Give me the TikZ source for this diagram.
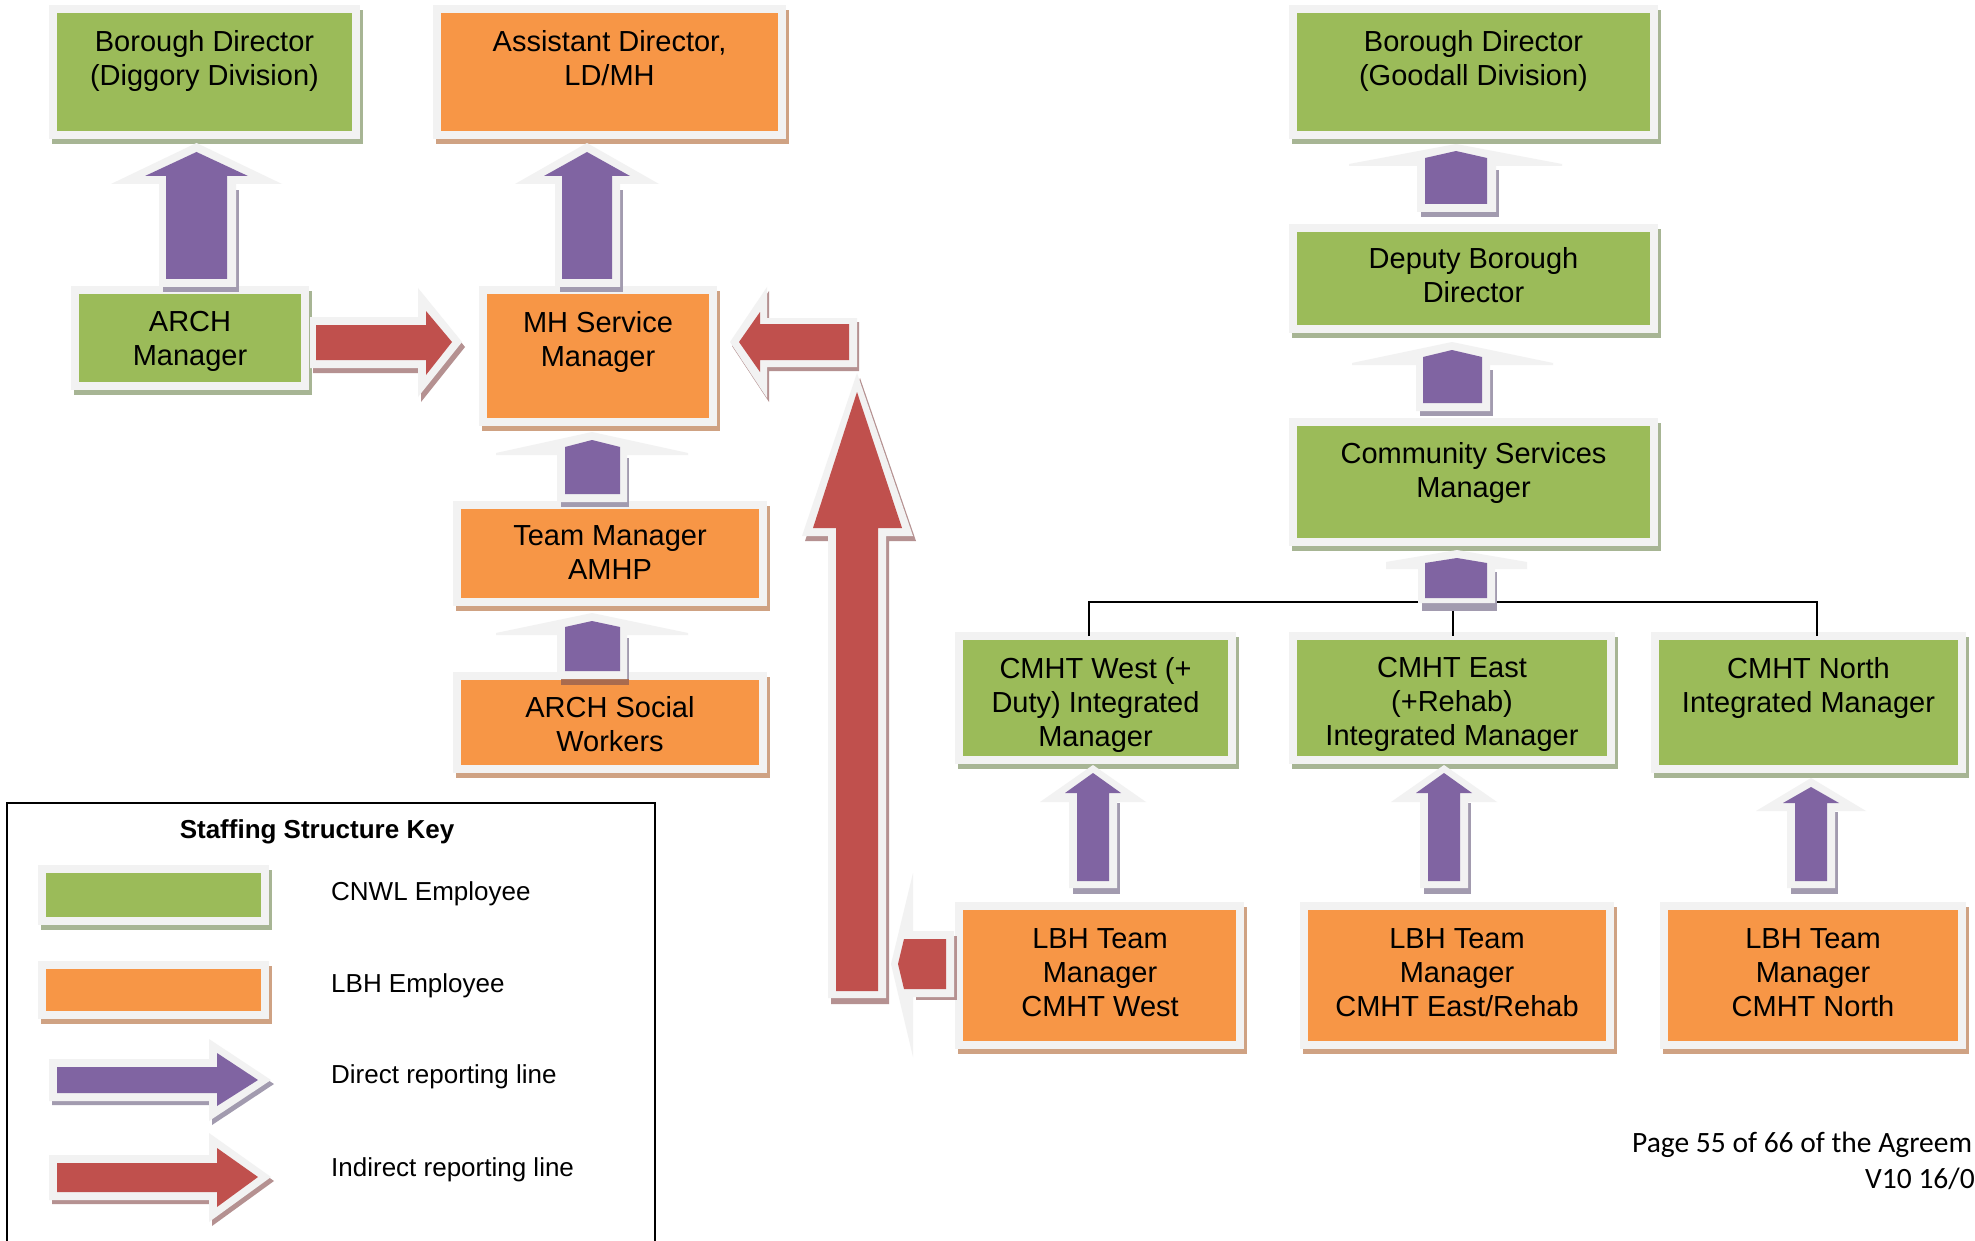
\documentclass[tikz,border=0pt]{standalone}
\usepackage{fontspec}
\setmainfont{Liberation Sans}
\newfontfamily\footfont{Carlito}
\definecolor{gr}{HTML}{9BBB59}
\definecolor{grs}{HTML}{A7B594}
\definecolor{og}{HTML}{F79646}
\definecolor{ogs}{HTML}{CFA283}
\definecolor{pu}{HTML}{8064A2}
\definecolor{pus}{HTML}{A29BAF}
\definecolor{rd}{HTML}{C0504D}
\definecolor{rds}{HTML}{B59191}
\definecolor{brs}{HTML}{A96B4E}
\definecolor{frm}{HTML}{F2F2F2}
% #1 name, #2 x1, #3 y1, #4 x2, #5 y2 (inner fill rectangle), #6 fill, #7 shadow
\newcommand{\mybox}[7]{%
  \fill[#7] (#2-5,#3-3) rectangle (#4+11,#5+13);
  \node[box, fill=#6, minimum width={#4-#2+8}, minimum height={#5-#3+8}] (#1) at ({(#2+#4)/2},{(#3+#5)/2}) {};
}
\begin{document}
\begin{tikzpicture}[x=1pt,y=-1pt,
  box/.style={rectangle, inner sep=0pt, outer sep=0pt, line width=8pt, draw=frm},
  lbl/.style={font=\fontsize{29}{34}\selectfont, align=center, inner sep=0pt, anchor=north},
  keylbl/.style={font=\fontsize{26}{30}\selectfont, inner sep=0pt, anchor=north west},
  conn/.style={line width=2pt, draw=black},
  aout/.style={fill=frm},
  pf/.style={fill=pu}, ps/.style={fill=pus},
  rf/.style={fill=rd}, rs/.style={fill=rds}]
\useasboundingbox[fill=white] (0,0) rectangle (1975,1241);

% junction coordinate for the CMHT connector
\coordinate (jn) at (1453,602);

% ---------- boxes ----------
\mybox{bdd}{57}{13}{352}{131}{gr}{grs}
\mybox{ad}{441}{13}{778}{131}{og}{ogs}
\mybox{bdg}{1297}{13}{1650}{131}{gr}{grs}
\mybox{archm}{79}{294}{301}{382}{gr}{grs}
\mybox{mhsm}{487}{294}{709}{418}{og}{ogs}
\mybox{dbd}{1297}{232}{1650}{325}{gr}{grs}
\mybox{csm}{1297}{426}{1650}{538}{gr}{grs}
\mybox{tm}{461}{509}{759}{598}{og}{ogs}
\mybox{arsw}{461}{680}{759}{765}{og}{ogs}

\mybox{cw}{963}{640}{1228}{756}{gr}{grs}
\mybox{ce}{1297}{640}{1607}{756}{gr}{grs}
\mybox{cn}{1659}{640}{1958}{765}{gr}{grs}
\mybox{lw}{963}{910}{1236}{1041}{og}{ogs}
\mybox{le}{1308}{910}{1606}{1041}{og}{ogs}
\mybox{ln}{1668}{910}{1958}{1041}{og}{ogs}

% connector lines from the junction to the three CMHT boxes
\coordinate (jw) at (1089,602);
\coordinate (je) at (1817,602);
\draw[conn] (jw |- cw.north) -- (jw) -- (je) -- (je |- cn.north);
\draw[conn] (jn) -- (jn |- ce.north);

% ---------- legend ----------
\draw[line width=2pt] (7,1260) -- (7,803) -- (655,803) -- (655,1260);
\mybox{kg}{46}{873}{261}{917}{gr}{grs}
\mybox{ko}{46}{969}{261}{1011}{og}{ogs}

% ---------- purple up arrows ----------
% ARCH Manager -> Borough Director (Diggory)
\fill[ps] (163,190) rectangle (239,292);
\fill[aout] (159,287) -- (159,184) -- (111,184) -- (196.5,143) -- (282,184) -- (236,184) -- (236,287) -- cycle;
\fill[pf] (166,279) -- (166,176) -- (145,176) -- (196.5,152) -- (248,176) -- (227,176) -- (227,279) -- cycle;
% MH Service Manager -> Assistant Director
\fill[ps] (560,190) rectangle (623,292);
\fill[aout] (555,287) -- (555,184) -- (515,184) -- (587,143) -- (659,184) -- (620,184) -- (620,287) -- cycle;
\fill[pf] (562,279) -- (562,176) -- (544,176) -- (587,152) -- (630,176) -- (612,176) -- (612,279) -- cycle;
% LBH West -> CMHT West
\fill[ps] (1073,803) rectangle (1120,894);
\fill[aout] (1069,888) -- (1069,802) -- (1040,802) -- (1093,765) -- (1146,802) -- (1117,802) -- (1117,888) -- cycle;
\fill[pf] (1077,881) -- (1077,793) -- (1065,793) -- (1093,773) -- (1121,793) -- (1109,793) -- (1109,881) -- cycle;
% LBH East -> CMHT East
\fill[ps] (1424,803) rectangle (1471,894);
\fill[aout] (1420,888) -- (1420,802) -- (1391,802) -- (1444,765) -- (1497,802) -- (1468,802) -- (1468,888) -- cycle;
\fill[pf] (1428,881) -- (1428,793) -- (1416,793) -- (1444,773) -- (1472,793) -- (1460,793) -- (1460,881) -- cycle;
% LBH North -> CMHT North
\fill[ps] (1791,812) rectangle (1838,894);
\fill[aout] (1787,888) -- (1787,811) -- (1756,811) -- (1811,778) -- (1866,811) -- (1835,811) -- (1835,888) -- cycle;
\fill[pf] (1795,881) -- (1795,803) -- (1783,803) -- (1811,787) -- (1839,803) -- (1827,803) -- (1827,881) -- cycle;

% ---------- short purple arrows ----------
% Deputy -> Borough Director (Goodall)
\fill[ps] (1421,170) rectangle (1499,217);
\fill[aout] (1417,212) -- (1417,166) -- (1349,166) -- (1349,164) -- (1456,144) -- (1562,164) -- (1562,166) -- (1496,166) -- (1496,212) -- cycle;
\fill[pf] (1425,204) -- (1425,158) -- (1456,151) -- (1487,158) -- (1487,204) -- cycle;
% CSM -> Deputy
\fill[ps] (1420,370) rectangle (1493,416);
\fill[aout] (1416,411) -- (1416,365) -- (1352,365) -- (1352,363) -- (1452,342) -- (1553,363) -- (1553,365) -- (1490,365) -- (1490,411) -- cycle;
\fill[pf] (1423,403) -- (1423,357) -- (1452,350) -- (1482,357) -- (1482,403) -- cycle;
% CMHT managers -> CSM
\fill[ps] (1422,572) rectangle (1497,611);
\fill[aout] (1418,603) -- (1418,569) -- (1386,569) -- (1386,562) -- (1457,550) -- (1527,562) -- (1527,569) -- (1495,569) -- (1495,603) -- cycle;
\fill[pf] (1425,598) -- (1425,563) -- (1457,558) -- (1487,563) -- (1487,598) -- cycle;
% Team Manager -> MH Service Manager
\fill[ps] (561,458) rectangle (629,507);
\fill[aout] (557,502) -- (557,455) -- (496,455) -- (496,453) -- (592,432) -- (688,453) -- (688,455) -- (627,455) -- (627,502) -- cycle;
\fill[pf] (565,494) -- (565,447) -- (592,440) -- (620,447) -- (620,494) -- cycle;
% ARCH Social Workers -> Team Manager
\fill[ps] (561,638) rectangle (629,679);
\fill[brs] (561,679) rectangle (629,685);
\fill[aout] (557,679) -- (557,635) -- (496,635) -- (496,633) -- (592,613) -- (688,633) -- (688,635) -- (627,635) -- (627,679) -- cycle;
\fill[pf] (565,671) -- (565,627) -- (592,621) -- (620,627) -- (620,671) -- cycle;

% ---------- red arrows ----------
% ARCH Manager -> MH Service Manager
\fill[rs] (313,322) -- (421,322) -- (421,293) -- (465,347) -- (421,402) -- (421,373) -- (313,373) -- cycle;
\fill[aout] (310,317) -- (418,317) -- (418,288) -- (462,342) -- (418,397) -- (418,368) -- (310,368) -- cycle;
\fill[rf] (316,325) -- (426,325) -- (426,311) -- (452,342) -- (426,375) -- (426,360) -- (316,360) -- cycle;
% long arrow -> MH Service Manager
\fill[rs] (859,322) -- (769,322) -- (769,291) -- (732,346) -- (769,402) -- (769,371) -- (859,371) -- cycle;
\fill[aout] (857,318) -- (767,318) -- (767,287) -- (730,342) -- (767,398) -- (767,367) -- (857,367) -- cycle;
\fill[rf] (849,324) -- (760,324) -- (760,312) -- (739,342) -- (760,372) -- (760,360) -- (849,360) -- cycle;
% long vertical arrow
\fill[rs] (831,1004) -- (831,541) -- (805,541) -- (860,378) -- (916,541) -- (889,541) -- (889,1004) -- cycle;
\fill[aout] (828,998) -- (828,536) -- (802,536) -- (857,373) -- (913,536) -- (886,536) -- (886,998) -- cycle;
\fill[rf] (836,991) -- (836,528) -- (813,528) -- (857,392) -- (902,528) -- (878,528) -- (878,991) -- cycle;
% LBH Team Manager CMHT West -> long arrow
\fill[rs] (916,936) rectangle (957,1000);
\fill[aout] (954,931) -- (913,931) -- (913,873) -- (891,964) -- (913,1057) -- (913,997) -- (954,997) -- cycle;
\fill[rf] (946,939) -- (904,939) -- (898,964) -- (904,989) -- (946,989) -- cycle;

% ---------- legend arrows ----------
\fill[ps] (52,1063) -- (212,1063) -- (212,1043) -- (274,1084) -- (212,1125) -- (212,1105) -- (52,1105) -- cycle;
\fill[aout] (49,1059) -- (209,1059) -- (209,1039) -- (271,1080) -- (209,1121) -- (209,1101) -- (49,1101) -- cycle;
\fill[pf] (57,1067) -- (217,1067) -- (217,1053) -- (258,1080) -- (217,1106) -- (217,1093) -- (57,1093) -- cycle;
\fill[rs] (52,1159) -- (212,1159) -- (212,1137) -- (274,1181) -- (212,1226) -- (212,1204) -- (52,1204) -- cycle;
\fill[aout] (49,1155) -- (209,1155) -- (209,1133) -- (271,1177) -- (209,1222) -- (209,1200) -- (49,1200) -- cycle;
\fill[rf] (57,1163) -- (217,1163) -- (217,1148) -- (258,1177) -- (217,1207) -- (217,1192) -- (57,1192) -- cycle;

% ---------- texts ----------
\node[lbl] (t-bdd) at (204.5,30) {Borough Director\\(Diggory Division)};
\node[lbl] (t-ad) at (609.5,30) {Assistant Director,\\LD/MH};
\node[lbl] (t-bdg) at (1473.5,30) {Borough Director\\(Goodall Division)};
\node[lbl] (t-archm) at (190,311) {ARCH\\Manager};
\node[lbl] (t-mhsm) at (598,311) {MH Service\\Manager};
\node[lbl] (t-dbd) at (1473.5,247) {Deputy Borough\\Director};
\node[lbl] (t-csm) at (1473.5,442) {Community Services\\Manager};
\node[lbl] (t-tm) at (610,525) {Team Manager\\AMHP};
\node[lbl] (t-arsw) at (610,696.5) {ARCH Social\\Workers};
\node[lbl] (t-cw) at (1095.5,657) {CMHT West (+\\Duty) Integrated\\Manager};
\node[lbl] (t-ce) at (1452,657) {CMHT East\\(+Rehab)\\Integrated Manager};
\node[lbl] (t-cn) at (1808.5,657) {CMHT North\\Integrated Manager};
\node[lbl] (t-lw) at (1100,928) {LBH Team\\Manager\\CMHT West};
\node[lbl] (t-le) at (1457,928) {LBH Team\\Manager\\CMHT East/Rehab};
\node[lbl] (t-ln) at (1813,928) {LBH Team\\Manager\\CMHT North};

\node[font=\bfseries\fontsize{26}{30}\selectfont, inner sep=0pt, anchor=north] (t-key) at (317,819) {Staffing Structure Key};
\node[keylbl] (t-k1) at (331,881) {CNWL Employee};
\node[keylbl] (t-k2) at (331,973) {LBH Employee};
\node[keylbl] (t-k3) at (331,1064) {Direct reporting line};
\node[keylbl] (t-k4) at (331,1157) {Indirect reporting line};

\node[font=\footfont\fontsize{29.5}{36}\selectfont, inner sep=0pt, anchor=base west] (pg1) at (1632,1152) {Page 55 of 66 of the Agreem};
\node[font=\footfont\fontsize{29.5}{36}\selectfont, inner sep=0pt, anchor=base west] (pg2) at (1865,1188) {V10 16/0};
\end{tikzpicture}
\end{document}
